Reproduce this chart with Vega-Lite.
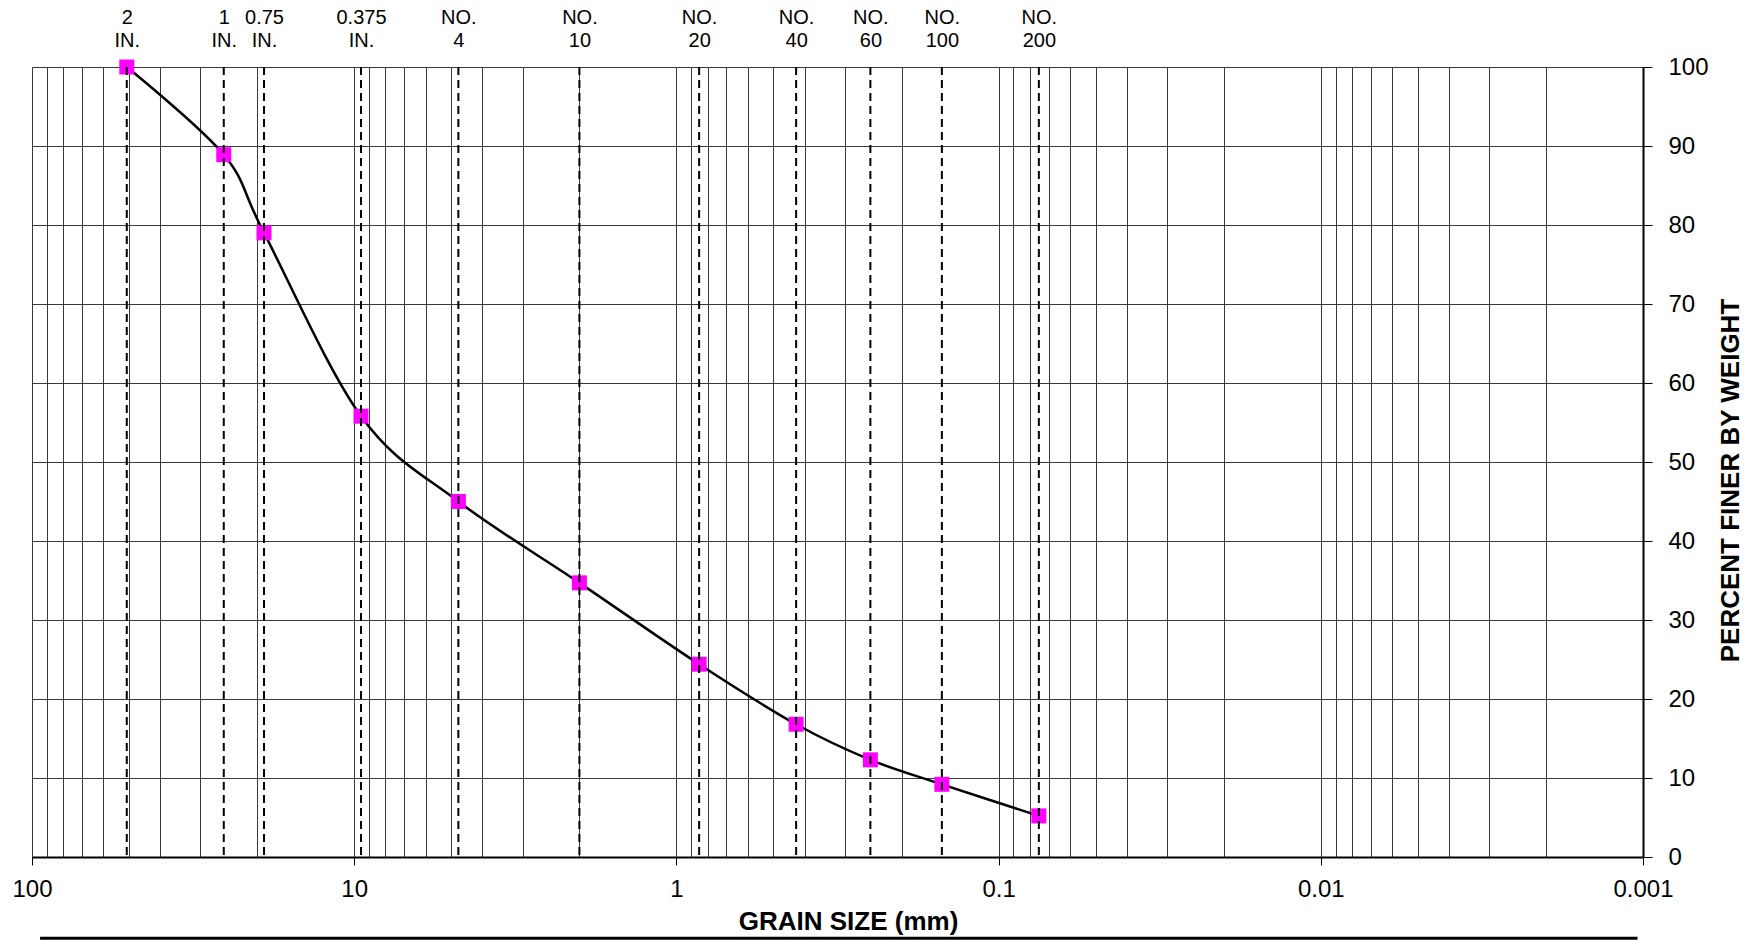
{
  "$schema": "https://vega.github.io/schema/vega-lite/v6.json",
  "width": 1611,
  "height": 790,
  "autosize": {"type": "none"},
  "padding": {"left": 32, "top": 67, "right": 113, "bottom": 83},
  "background": "white",
  "config": {"view": {"stroke": null}, "font": "Liberation Sans"},
  "layer": [
    {
      "data": {"values": [
        {"size": 50.8, "pct": 100},
        {"size": 25.4, "pct": 88.9},
        {"size": 19.05, "pct": 79.0},
        {"size": 9.525, "pct": 55.8},
        {"size": 4.75, "pct": 45.0},
        {"size": 2.0, "pct": 34.7},
        {"size": 0.85, "pct": 24.4},
        {"size": 0.425, "pct": 16.8},
        {"size": 0.25, "pct": 12.3},
        {"size": 0.15, "pct": 9.2},
        {"size": 0.075, "pct": 5.2}
      ]},
      "encoding": {
        "x": {
          "field": "size", "type": "quantitative",
          "scale": {"type": "log", "domain": [0.001, 100], "reverse": true, "nice": false},
          "axis": {
            "orient": "bottom",
            "values": [100, 90, 80, 70, 60, 50, 40, 30, 20, 10, 9, 8, 7, 6, 5, 4, 3, 2, 1, 0.9, 0.8, 0.7, 0.6, 0.5, 0.4, 0.3, 0.2, 0.1, 0.09, 0.08, 0.07, 0.06, 0.05, 0.04, 0.03, 0.02, 0.01, 0.009, 0.008, 0.007, 0.006, 0.005, 0.004, 0.003, 0.002, 0.001],
            "format": "~g",
            "labelExpr": "abs(log(datum.value)/LN10 - round(log(datum.value)/LN10)) < 0.0001 ? datum.label : ''",
            "labelFlush": false,
            "labelOverlap": false,
            "grid": true,
            "gridColor": "#3a3a3a",
            "gridWidth": 1,
            "gridOpacity": 1,
            "domainColor": "black",
            "domainWidth": 2,
            "tickColor": "black",
            "tickSize": 8,
            "tickWidth": 1,
            "tickOpacity": {"condition": {"test": "abs(log(datum.value)/LN10 - round(log(datum.value)/LN10)) < 0.0001", "value": 1}, "value": 0},
            "labelFontSize": 24,
            "labelColor": "black",
            "labelPadding": 12,
            "title": "GRAIN SIZE (mm)",
            "titleFontSize": 26,
            "titleFontWeight": "bold",
            "titleColor": "black",
            "titlePadding": 7,
            "titleX": 816
          }
        },
        "y": {
          "field": "pct", "type": "quantitative",
          "scale": {"domain": [0, 100], "nice": false},
          "axis": {
            "orient": "right",
            "values": [0, 10, 20, 30, 40, 50, 60, 70, 80, 90, 100],
            "grid": true,
            "gridColor": "#3a3a3a",
            "gridWidth": 1,
            "gridOpacity": 1,
            "domainColor": "black",
            "domainWidth": 2,
            "tickColor": "black",
            "tickSize": 9,
            "labelFontSize": 24,
            "labelColor": "black",
            "labelPadding": 16,
            "title": "PERCENT FINER BY WEIGHT",
            "titleAngle": 270,
            "titleFontSize": 26,
            "titleFontWeight": "bold",
            "titleColor": "black",
            "titlePadding": 35,
            "titleY": 413
          }
        }
      },
      "layer": [
        {"mark": {"type": "line", "interpolate": "cardinal", "color": "black", "strokeWidth": 2.5}},
        {"mark": {"type": "point", "shape": "square", "filled": true, "size": 225, "color": "#FF00FF", "opacity": 1}}
      ]
    },
    {
      "data": {"values": [
        {"size": 50.8, "sieve": "2 IN."},
        {"size": 25.4, "sieve": "1 IN."},
        {"size": 19.05, "sieve": "0.75 IN."},
        {"size": 9.525, "sieve": "0.375 IN."},
        {"size": 4.75, "sieve": "NO. 4"},
        {"size": 2.0, "sieve": "NO. 10"},
        {"size": 0.85, "sieve": "NO. 20"},
        {"size": 0.425, "sieve": "NO. 40"},
        {"size": 0.25, "sieve": "NO. 60"},
        {"size": 0.15, "sieve": "NO. 100"},
        {"size": 0.075, "sieve": "NO. 200"}
      ]},
      "mark": {"type": "rule", "strokeDash": [8, 5], "strokeWidth": 2, "color": "black"},
      "encoding": {
        "x": {
          "field": "size", "type": "quantitative",
          "scale": {"type": "log", "domain": [0.001, 100], "reverse": true, "nice": false},
          "axis": {
            "orient": "top",
            "values": [50.8, 25.4, 19.05, 9.525, 4.75, 2.0, 0.85, 0.425, 0.25, 0.15, 0.075],
            "labelExpr": "datum.value == 50.8 ? ['2','IN.'] : datum.value == 25.4 ? ['1','IN.'] : datum.value == 19.05 ? ['0.75','IN.'] : datum.value == 9.525 ? ['0.375','IN.'] : datum.value == 4.75 ? ['NO.','4'] : datum.value == 2 ? ['NO.','10'] : datum.value == 0.85 ? ['NO.','20'] : datum.value == 0.425 ? ['NO.','40'] : datum.value == 0.25 ? ['NO.','60'] : datum.value == 0.15 ? ['NO.','100'] : ['NO.','200']",
            "domain": false,
            "ticks": false,
            "tickSize": 0,
            "grid": false,
            "labelFontSize": 20,
            "labelColor": "black",
            "labelPadding": 40,
            "labelLineHeight": 23,
            "labelFlush": false,
            "labelOverlap": false,
            "title": null
          }
        }
      }
    },
    {
      "data": {"values": [{"row": "table"}]},
      "mark": {"type": "rule", "color": "black", "strokeWidth": 3},
      "encoding": {
        "x": {"datum": 94.4, "type": "quantitative", "scale": {"type": "log", "domain": [0.001, 100], "reverse": true, "nice": false}, "axis": null},
        "x2": {"datum": 0.00104},
        "y": {"datum": -10.3, "type": "quantitative", "scale": {"domain": [0, 100], "nice": false}}
      }
    }
  ],
  "resolve": {"axis": {"x": "independent"}}
}
